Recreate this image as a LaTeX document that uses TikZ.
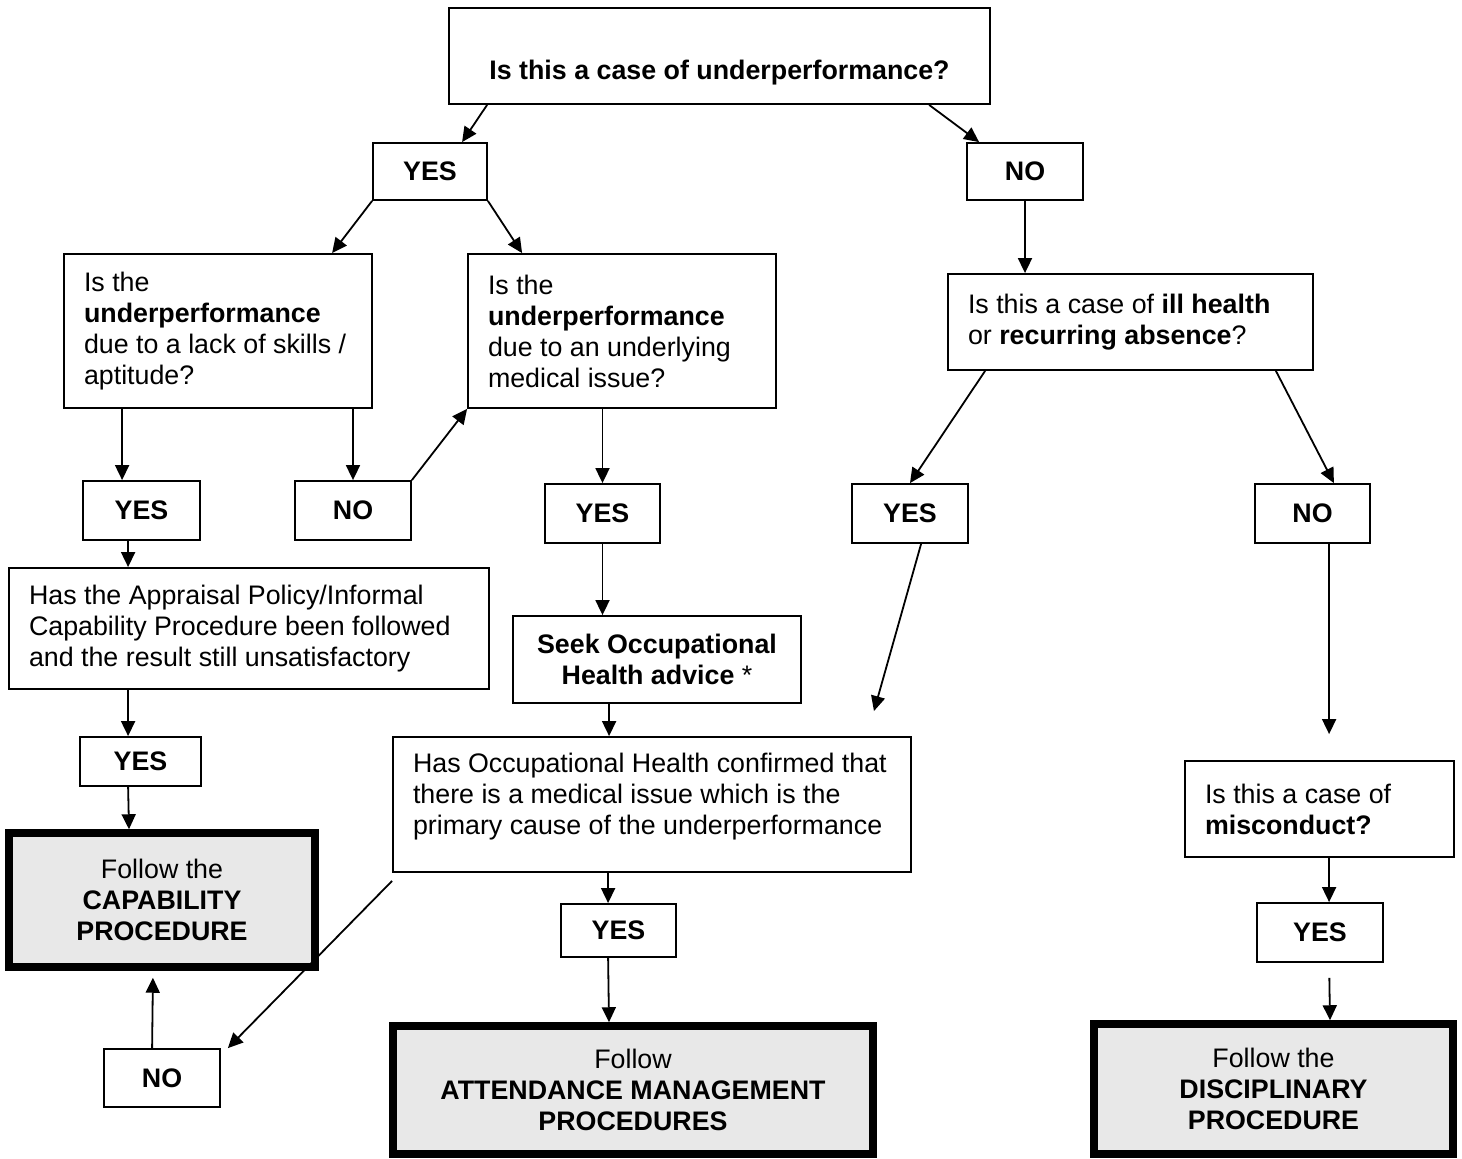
\documentclass[tikz,border=0pt]{standalone}
\usepackage{fontspec}
\setmainfont{Liberation Sans}
\usepackage{xcolor}
\usepackage{tikz}
\usetikzlibrary{arrows.meta, calc}

\definecolor{procgray}{RGB}{232,232,232}
\newcommand{\boxfont}{\fontsize{13.4}{15.5}\selectfont}

\begin{document}
\begin{tikzpicture}[
        x=0.5pt, y=-0.5pt,
        box/.style={rectangle, draw, line width=0.9pt, font=\boxfont},
        qbox/.style={box, align=flush left, inner xsep=10pt, inner ysep=0pt},
        ans/.style={box, font=\boxfont\bfseries, align=center},
        proc/.style={box, line width=3.75pt, fill=procgray, align=center},
        arrow/.style={-{Triangle[length=7.5pt,width=7pt]}, line width=0.9pt}
    ]
        \useasboundingbox (0,0) rectangle (1462,1159);

        % questions
        \node[box, font=\boxfont\bfseries, minimum width=270.5pt, inner ysep=0pt, text height=35.75pt, text depth=12.25pt] (T) at (719.5,56) {Is this a case of underperformance?};
        \node[qbox, text width=134pt, minimum height=77pt] (A) at (218,331) {Is the\\ \textbf{underperformance}\\ due to a lack of skills /\\ aptitude?};
        \node[qbox, text width=134pt, minimum height=77pt] (B) at (622,331) {Is the\\ \textbf{underperformance}\\ due to an underlying\\ medical issue?};
        \node[qbox, text width=162.5pt, minimum height=48pt] (C) at (1130.5,322) {Is this a case of \textbf{ill health}\\ or \textbf{recurring absence}?};
        \node[qbox, text width=220pt, minimum height=60.5pt] (D) at (249,628.5) {Has the Appraisal Policy/Informal\\ Capability Procedure been followed\\ and the result still unsatisfactory};
        \node[box, align=center, minimum width=144pt, minimum height=43.5pt] (E) at (657,659.5) {\textbf{Seek Occupational}\\ \textbf{Health advice} *};
        \node[qbox, text width=239pt, minimum height=67.5pt] (F) at (652,804.5) {Has Occupational Health confirmed that\\ there is a medical issue which is the\\ primary cause of the underperformance\\[-9pt] \strut};
        \node[qbox, text width=114.5pt, minimum height=48pt] (G) at (1319.5,809) {Is this a case of\\ \textbf{misconduct?}};

        % answers
        \node[ans, minimum width=57pt, minimum height=28.5pt] (Y1) at (430,171.5) {YES};
        \node[ans, minimum width=58pt, minimum height=28.5pt] (N1) at (1025,171.5) {NO};
        \node[ans, minimum width=58.5pt, minimum height=29.5pt] (Y2) at (141.5,510.5) {YES};
        \node[ans, minimum width=58pt, minimum height=29.5pt] (N2) at (353,510.5) {NO};
        \node[ans, minimum width=57.5pt, minimum height=29.5pt] (Y3) at (602.5,513.5) {YES};
        \node[ans, minimum width=58pt, minimum height=29.5pt] (Y4) at (910,513.5) {YES};
        \node[ans, minimum width=57.5pt, minimum height=29.5pt] (N4) at (1312.5,513.5) {NO};
        \node[ans, minimum width=60.5pt, minimum height=24.5pt] (Y5) at (140.5,761.5) {YES};
        \node[ans, minimum width=58pt, minimum height=29pt] (N5) at (162,1078) {NO};
        \node[ans, minimum width=57.5pt, minimum height=26.5pt] (Y6) at (618.5,930.5) {YES};
        \node[ans, minimum width=63pt, minimum height=29.5pt] (Y7) at (1320,932.5) {YES};

        % procedures
        \node[proc, minimum width=153pt, minimum height=67pt] (Cap) at (162,900) {Follow the\\ \textbf{CAPABILITY}\\ \textbf{PROCEDURE}};
        \node[proc, minimum width=240pt, minimum height=64pt] (Att) at (633,1090) {Follow\\ \textbf{ATTENDANCE MANAGEMENT}\\ \textbf{PROCEDURES}};
        \node[proc, minimum width=179.5pt, minimum height=65pt] (Disc) at (1273.5,1089) {Follow the\\ \textbf{DISCIPLINARY}\\ \textbf{PROCEDURE}};

        % connectors
        \draw[arrow] ($(T.south west)+(39,0)$) -- ($(Y1.north west)+(90,0)$);
        \draw[arrow] ($(T.south west)+(481,0)$) -- ($(N1.north west)+(13,0)$);
        \draw[arrow] (Y1.south west) -- ($(A.north west)+(269,0)$);
        \draw[arrow] (Y1.south east) -- ($(B.north west)+(55,0)$);
        \draw[arrow] (N1.south) -- (N1.south |- C.north);
        \draw[arrow] ($(A.south west)+(59,0)$) -- ($(Y2.north west)+(40,0)$);
        \draw[arrow] (A.south -| N2.north) -- (N2.north);
        \draw[arrow] (N2.north east) -- (B.south west);
        \draw[arrow] (B.south -| Y3.north) -- (Y3.north);
        \draw[arrow] ($(C.south west)+(38,0)$) -- (Y4.north);
        \draw[arrow] ($(C.south east)+(-38,0)$) -- ($(N4.north east)+(-37,0)$);
        \draw[arrow] ($(Y2.south west)+(46,0)$) -- ($(D.north west)+(120,0)$);
        \draw[arrow] (Y3.south) -- (Y3.south |- E.north);
        \draw[arrow, shorten >=13pt] ($(Y4.south west)+(70,0)$) -- ($(F.north east)+(-45,0)$);
        \draw[arrow] ($(E.south west)+(97,0)$) -- ($(F.north west)+(217,0)$);
        \draw[arrow, shorten >=13pt] ($(N4.south west)+(75,0)$) -- ($(G.north west)+(145,0)$);
        \draw[arrow] ($(D.south west)+(120,0)$) -- ($(Y5.north west)+(49,0)$);
        \draw[arrow] ($(Y5.south west)+(49,0)$) -- ($(Cap.north west)+(123.75,0)$);
        \draw[arrow] ($(F.south west)+(0,8)$) -- ($(N5.north east)+(7,0)$);
        \draw[arrow, shorten >=3.5pt] ($(N5.north west)+(49,0)$) -- ($(Cap.south west)+(147.75,0)$);
        \draw[arrow] ($(F.south west)+(216,0)$) -- ($(Y6.north west)+(48,0)$);
        \draw[arrow] ($(Y6.south west)+(48,0)$) -- ($(Att.north west)+(219.75,0)$);
        \draw[arrow] ($(G.south west)+(145,0)$) -- ($(Y7.north west)+(73,0)$);
        \draw[arrow, shorten <=7.5pt] ($(Y7.south west)+(73,0)$) -- ($(Disc.north west)+(239.75,0)$);
    \end{tikzpicture}
\end{document}
